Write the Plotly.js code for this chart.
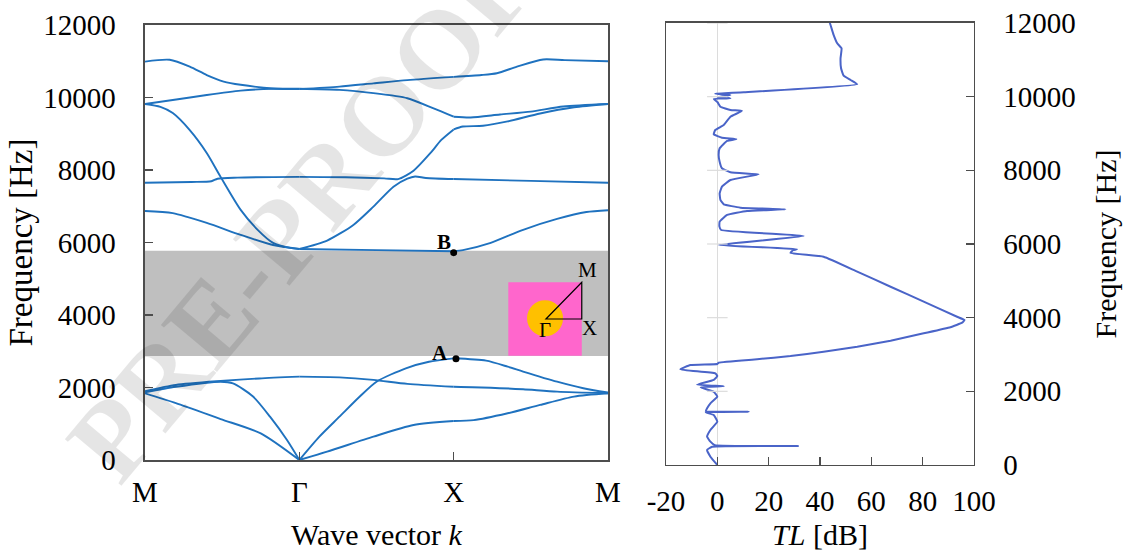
<!DOCTYPE html>
<html><head><meta charset="utf-8">
<script src="https://cdn.plot.ly/plotly-3.0.1.min.js"></script>
<style>html,body{margin:0;padding:0;background:#fff}#chart{width:1127px;height:551px}</style>
</head><body><div id="chart"></div>
<script>
// ---- Band structure (left panel): wave-vector path M-Γ-X-M mapped to 0..3 ----
const kTickVals = [0, 1, 2, 3];
const kTickText = ['M', 'Γ', 'X', 'M'];
const freqTicks = [0, 2000, 4000, 6000, 8000, 10000, 12000];

const band1K = [0, 0.2, 0.49, 0.75, 1, 1.18, 1.48, 1.74, 2, 2.13, 2.35, 2.56, 2.78, 3];
const band1F = [1840, 1570, 1130, 735, 0, 230, 645, 965, 1075, 1100, 1290, 1520, 1750, 1840];

const band2K = [0, 0.2, 0.49, 0.57, 0.7, 0.81, 0.92, 1, 1.13, 1.26, 1.39, 1.5, 1.69, 1.84, 2, 2.21, 2.35, 2.45, 2.67, 2.84, 3];
const band2F = [1870, 2020, 2160, 2115, 1750, 1195, 550, 0, 645, 1195, 1745, 2160, 2530, 2710, 2805, 2740, 2575, 2440, 2160, 1980, 1860];

const band3K = [0, 0.2, 0.49, 0.74, 1, 1.26, 1.48, 1.7, 2, 2.24, 2.45, 2.67, 3];
const band3F = [1900, 2070, 2180, 2250, 2300, 2280, 2210, 2100, 2020, 1995, 1950, 1885, 1840];

const band4K = [0, 0.18, 0.4, 0.62, 0.83, 1, 1.5, 2, 2.06, 2.24, 2.45, 2.67, 2.86, 3];
const band4F = [6870, 6810, 6540, 6210, 5930, 5820, 5790, 5760, 5790, 5990, 6350, 6650, 6840, 6890];

const band5K = [0, 0.1, 0.18, 0.29, 0.4, 0.49, 0.62, 0.73, 0.83, 0.94, 1, 1.18, 1.35, 1.48, 1.61, 1.7, 1.75, 1.82, 2, 2.5, 3];
const band5F = [9820, 9740, 9570, 9100, 8470, 7810, 6900, 6350, 5990, 5850, 5820, 6055, 6485, 6990, 7540, 7760, 7820, 7780, 7750, 7700, 7650];

const band6K = [0, 0.3, 0.43, 0.47, 0.6, 1, 1.3, 1.55, 1.64, 1.74, 1.85, 1.92, 2, 2.06, 2.19, 2.35, 2.56, 2.78, 3];
const band6F = [7650, 7670, 7690, 7760, 7790, 7810, 7800, 7770, 7750, 7980, 8470, 8830, 9120, 9200, 9220, 9340, 9560, 9730, 9820];

const band7K = [0, 0.18, 0.4, 0.62, 0.83, 1, 1.26, 1.48, 1.7, 1.87, 2, 2.11, 2.3, 2.5, 2.71, 3];
const band7F = [9820, 9930, 10070, 10190, 10240, 10240, 10210, 10120, 9980, 9700, 9470, 9450, 9530, 9610, 9750, 9820];

const band8K = [0, 0.16, 0.29, 0.4, 0.51, 0.62, 0.83, 1, 1.26, 1.48, 1.7, 2, 2.18, 2.28, 2.41, 2.58, 2.72, 3];
const band8F = [10990, 11040, 10850, 10620, 10440, 10350, 10250, 10230, 10300, 10390, 10480, 10570, 10620, 10670, 10850, 11050, 11030, 11000];

const bandGap = [2870, 5770];
const pointK = [2.0, 2.015];
const pointF = [5720, 2795];
const pointLabels = ['B', 'A'];

// ---- Transmission loss (right panel) ----
const tlFreq = [0, 225, 407, 497, 515, 540, 633, 770, 950, 1175, 1357, 1430, 1447, 1465, 1540, 1675, 1855, 1990, 2110, 2140, 2180, 2310, 2415, 2490, 2598, 2715, 2742, 2777,
  2870, 2960, 3075, 3210, 3375, 3575, 3740, 3865, 3935, 4025, 4435, 4840, 5250, 5655, 5760, 5830, 5860, 5975,
  6217, 6380, 6480, 6606, 6788, 6896, 6942, 6986, 7078, 7195, 7377, 7556, 7738, 7892, 7947, 8056, 8235, 8417, 8598, 8797, 8851, 8886, 8979, 9095, 9231, 9457, 9611, 9638, 9728, 9848, 9937, 9956, 9983, 10046, 10082, 10119,
  10336, 10453, 10570, 10770, 11042, 11313, 11449, 11675, 11946, 12000];
const tlValues = [0, -2.7, -4, -2, 31.5, -1, -2.7, -4, -2.7, 0, -1.4, -4.5, 12.2, -4.5, -4, -2.7, 0, -1.4, -6.5, 2.5, -7.9, -1.4, 0, -0.8, -14.4, -10.5, 0, 0.5,
  15.5, 28.5, 41.4, 54.5, 67.5, 80.4, 90.8, 95.4, 96.3, 93.4, 80.4, 67.5, 54.5, 41.4, 28.5, 29.5, 31, 0.5,
  33.6, 1.5, 0.8, 0.9, 3.8, 11.6, 26.5, 9, 2.5, 1.2, 0.9, 1.8, 5.1, 16.1, 5.1, 1.8, 0.9, 0.5, 0.9, 3.8, 7.4, 1.8, -1.4, -0.8, 2.5, 5.1, 9.6, 5.1, 1.2, 0.1, -1.4, 5.1, 0.1, 5.1, -0.8, 10.3,
  54.5, 51.9, 49.2, 48.2, 48.0, 48.4, 46.7, 45.3, 44.1, 43.8];
const tlTicks = [-20, 0, 20, 40, 60, 80, 100];

// ---- build ----
const serif = 'Liberation Serif, Times New Roman, serif';
const bandColor = '#1f72bf';
const bands = [[band1K, band1F], [band2K, band2F], [band3K, band3F], [band4K, band4F],
               [band5K, band5F], [band6K, band6F], [band7K, band7F], [band8K, band8F]];
const traces = [];
bands.forEach(([k, f]) => {
  for (let s = 0; s < 3; s++) {
    const xs = [], ys = [];
    k.forEach((v, i) => { if (v >= s - 1e-9 && v <= s + 1 + 1e-9) { xs.push(v); ys.push(f[i]); } });
    traces.push({x: xs, y: ys, type: 'scatter', mode: 'lines', xaxis: 'x', yaxis: 'y',
      line: {color: bandColor, width: 1.9, shape: 'spline', smoothing: 0.7}, hoverinfo: 'skip'});
  }
});
traces.push({x: pointK, y: pointF, type: 'scatter', mode: 'markers', xaxis: 'x', yaxis: 'y',
  marker: {color: '#000', size: 7}, hoverinfo: 'skip'});
traces.push({x: tlValues, y: tlFreq, type: 'scatter', mode: 'lines', xaxis: 'x2', yaxis: 'y2',
  line: {color: '#4a64c8', width: 2, shape: 'spline', smoothing: 0.35}, hoverinfo: 'skip'});

const frame = '#4d4d4d';
const tickFont = {family: serif, size: 29, color: '#000'};
const titleFont = {family: serif, size: 30, color: '#000'};

// inset Brillouin zone diagram (left panel, inside band gap)
const inset = {x0: 2.354, x1: 2.83, y0: 2878, y1: 4903, cx: 2.592, cy: 3910, rx: 0.1166, ry: 497, gy: 3890};
const shapes = [
  {type: 'rect', xref: 'x', yref: 'y', x0: 0, x1: 3, y0: bandGap[0], y1: bandGap[1], fillcolor: '#bfbfbf', line: {width: 0}, layer: 'below'},
  {type: 'rect', xref: 'x', yref: 'y', x0: inset.x0, x1: inset.x1, y0: inset.y0, y1: inset.y1, fillcolor: '#ff66cc', line: {width: 0}},
  {type: 'circle', xref: 'x', yref: 'y', x0: inset.cx - inset.rx, x1: inset.cx + inset.rx, y0: inset.cy - inset.ry, y1: inset.cy + inset.ry, fillcolor: '#ffc000', line: {width: 0}},
  {type: 'path', xref: 'x', yref: 'y', path: `M ${inset.cx + 0.006} ${inset.gy} L ${inset.x1} ${inset.gy} L ${inset.x1} ${inset.y1} Z`, line: {color: '#000', width: 1.2}},
];
[2000, 4000, 6000, 8000, 10000, 12000].forEach(v => shapes.push(
  {type: 'line', xref: 'x2', yref: 'y2', x0: -4, x1: 4, y0: v, y1: v, line: {color: '#dcdcdc', width: 1.2}}));

const annotations = [
  {xref: 'x', yref: 'y', x: inset.x1 + 0.036, y: 5242, text: 'M', showarrow: false, font: {family: serif, size: 21, color: '#000'}},
  {xref: 'x', yref: 'y', x: inset.cx, y: 3587, text: 'Γ', showarrow: false, font: {family: serif, size: 21, color: '#000'}},
  {xref: 'x', yref: 'y', x: inset.x1 + 0.053, y: 3633, text: 'X', showarrow: false, font: {family: serif, size: 21, color: '#000'}},
  {xref: 'x', yref: 'y', x: pointK[0], y: pointF[0], text: '<b>' + pointLabels[0] + '</b>', showarrow: false, xshift: -10, yshift: 11, font: {family: serif, size: 21, color: '#000'}},
  {xref: 'x', yref: 'y', x: pointK[1], y: pointF[1], text: '<b>' + pointLabels[1] + '</b>', showarrow: false, xshift: -16, yshift: 6, font: {family: serif, size: 21, color: '#000'}},
  {xref: 'paper', yref: 'paper', x: 0.267, y: 0.6134, xanchor: 'center', yanchor: 'middle', text: '<b>PRE-PROOF</b>', textangle: -50, showarrow: false,
   font: {family: serif, size: 112, color: 'rgba(0,0,0,0.1)'}},
];

const layout = {
  width: 1127, height: 551, margin: {l: 0, r: 0, t: 0, b: 0}, showlegend: false,
  paper_bgcolor: '#fff', plot_bgcolor: 'rgba(0,0,0,0)', hovermode: false,
  xaxis: {domain: [0.12866, 0.53949], range: [0, 3], anchor: 'y', tickmode: 'array', tickvals: kTickVals, ticktext: kTickText,
    ticks: 'inside', ticklen: 8, tickwidth: 1.2, tickcolor: frame, showline: true, mirror: true, linecolor: frame, linewidth: 1.5,
    showgrid: false, zeroline: false, tickfont: tickFont, ticklabelstandoff: 6,
    title: {text: 'Wave vector <i>k</i>', font: titleFont, standoff: 26}},
  yaxis: {domain: [0.16515, 0.95463], range: [0, 12000], anchor: 'x', tickmode: 'array', tickvals: freqTicks, ticktext: freqTicks.map(String),
    ticks: 'inside', ticklen: 8, tickwidth: 1.2, tickcolor: frame, showline: true, mirror: true, linecolor: frame, linewidth: 1.5,
    showgrid: false, zeroline: false, tickfont: tickFont, ticklabelstandoff: 22,
    title: {text: 'Frequency [Hz]', font: {family: serif, size: 33, color: '#000'}, standoff: 0}},
  xaxis2: {domain: [0.59095, 0.86424], range: [-20, 100], anchor: 'y2', tickmode: 'array', tickvals: tlTicks, ticktext: tlTicks.map(String),
    ticks: 'inside', ticklen: 8, tickwidth: 1.2, tickcolor: frame, showline: true, mirror: true, linecolor: frame, linewidth: 1.5,
    showgrid: false, zeroline: true, zerolinecolor: '#dcdcdc', zerolinewidth: 1.2, tickfont: tickFont, ticklabelstandoff: 10,
    title: {text: '<i>TL</i> [dB]', font: titleFont, standoff: 16}},
  yaxis2: {domain: [0.15608, 0.95826], range: [0, 12000], anchor: 'x2', side: 'right', tickmode: 'array', tickvals: freqTicks, ticktext: freqTicks.map(String),
    ticks: 'inside', ticklen: 8, tickwidth: 1.2, tickcolor: frame, showline: true, mirror: true, linecolor: frame, linewidth: 1.5,
    showgrid: false, zeroline: false, tickfont: tickFont, ticklabelstandoff: 22,
    title: {text: 'Frequency [Hz]', font: titleFont, standoff: 20}},
  shapes: shapes, annotations: annotations
};
Plotly.newPlot('chart', traces, layout, {staticPlot: true, displayModeBar: false});
</script></body></html>
